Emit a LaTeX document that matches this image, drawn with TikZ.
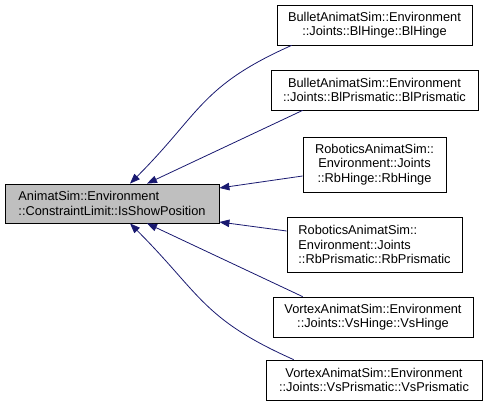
\documentclass[tikz,border=0pt]{standalone}
\usepackage{fontspec}
\setmainfont{Liberation Sans}
\usetikzlibrary{arrows.meta}
\definecolor{edgeblue}{HTML}{191970}
\definecolor{boxgray}{HTML}{BFBFBF}
\begin{document}
\begin{tikzpicture}[x=1pt,y=1pt,
    box/.style={draw=black, line width=0.8pt, inner sep=0pt, align=center,
      font=\fontsize{12.8}{14.3}\selectfont},
    inherit/.style={draw=edgeblue, line width=0.8pt,
      -{Triangle[length=10pt,width=7.5pt]}}]

      \useasboundingbox (0,0) rectangle (488,409);

      \begin{scope}[every node/.style={box}]
        \node[fill=boxgray, align=left, minimum width=214pt, minimum height=39pt]
          (main) at (112,205.5) {AnimatSim::Environment\\::ConstraintLimit::IsShowPosition};
        \node[minimum width=195pt, minimum height=40pt] (blhinge) at (374.5,384)
          {BulletAnimatSim::Environment\\::Joints::BlHinge::BlHinge};
        \node[minimum width=207pt, minimum height=40pt] (blprismatic) at (374.5,319)
          {BulletAnimatSim::Environment\\::Joints::BlPrismatic::BlPrismatic};
        \node[minimum width=143pt, minimum height=55pt] (rbhinge) at (374.5,244.5)
          {RoboticsAnimatSim::\\Environment::Joints\\::RbHinge::RbHinge};
        \node[align=left, minimum width=175pt, minimum height=55pt] (rbprismatic) at (374.5,164.5)
          {RoboticsAnimatSim::\\Environment::Joints\\::RbPrismatic::RbPrismatic};
        \node[minimum width=200pt, minimum height=40pt] (vshinge) at (373,92)
          {VortexAnimatSim::Environment\\::Joints::VsHinge::VsHinge};
        \node[minimum width=216pt, minimum height=40pt] (vsprismatic) at (374,29)
          {VortexAnimatSim::Environment\\::Joints::VsPrismatic::VsPrismatic};
      \end{scope}

      \begin{scope}[every edge/.style={inherit}]
        \path ([xshift=15pt]blhinge.south west) edge[out=204, in=45, looseness=1.2] ([xshift=18pt]main.north);
        \path ([xshift=32pt]blprismatic.south west) edge ([xshift=35pt]main.north);
        \path ([yshift=-11.5pt]rbhinge.west) edge ([yshift=15.5pt]main.east);
        \path ([yshift=13.5pt]rbprismatic.west) edge ([yshift=-18.5pt]main.east);
        \path ([xshift=30pt]vshinge.north west) edge ([xshift=35pt]main.south);
        \path ([xshift=28pt]vsprismatic.north west) edge[out=156, in=-45, looseness=1.2] ([xshift=18pt]main.south);
      \end{scope}

    \end{tikzpicture}
\end{document}
